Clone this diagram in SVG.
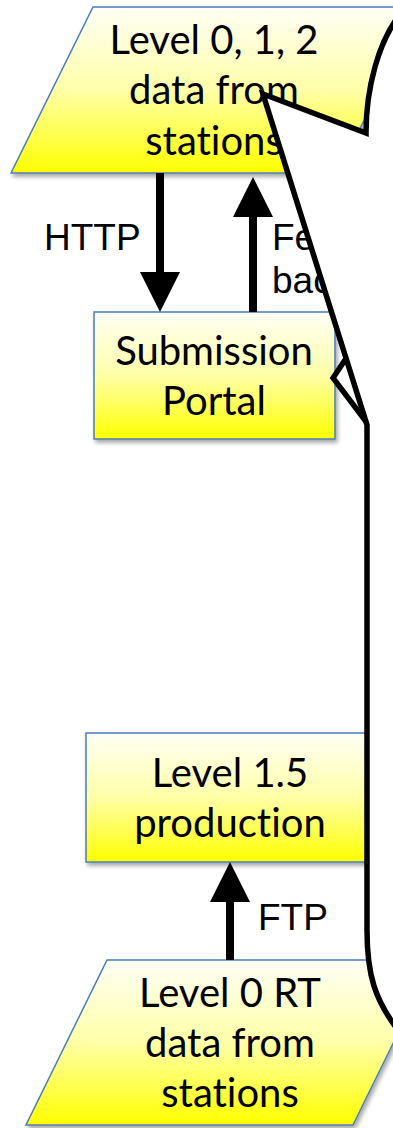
<svg xmlns="http://www.w3.org/2000/svg" width="393" height="1128" viewBox="0 0 393 1128">
<defs>
<linearGradient id="yg" x1="0" y1="0" x2="0" y2="1">
<stop offset="0" stop-color="#FFFFF6"/>
<stop offset="0.5" stop-color="#FFFFA8"/>
<stop offset="1" stop-color="#FFFF00"/>
</linearGradient>
<filter id="sh" x="-10%" y="-10%" width="130%" height="130%">
<feDropShadow dx="2" dy="3" stdDeviation="2" flood-color="#000" flood-opacity="0.35"/>
</filter>
<marker id="ah" markerUnits="userSpaceOnUse" markerWidth="40" markerHeight="40" viewBox="0 0 40 40" refX="0" refY="20" orient="auto">
<path d="M0,0 L40,20 L0,40 Z" fill="#000"/>
</marker>
</defs>
<style>
.node{fill:url(#yg);stroke:#4A7EBB;stroke-width:1.5;filter:url(#sh)}
.nt{font-family:Lato,"Liberation Sans",sans-serif;font-size:40px;fill:#000;text-anchor:middle;font-variant-ligatures:none}
.el{font-family:"Liberation Sans",Arial,sans-serif;font-size:37px;fill:#000}
.conn{stroke:#000;stroke-width:8;fill:none;marker-end:url(#ah)}
.call{fill:#fff;stroke:#000;stroke-width:5.5;stroke-linejoin:miter}
</style>
<g id="n-top">
<path class="node" d="M93,7 L420,7 L338,173 L11,173 Z"/>
<text class="nt" x="214" y="54">Level 0, 1, 2</text>
<text class="nt" x="214" y="104">data from</text>
<text class="nt" x="214" y="155">stations</text>
</g>
<g id="n-portal">
<rect class="node" x="94" y="312" width="241" height="127"/>
<text class="nt" x="214" y="365">Submission</text>
<text class="nt" x="214" y="415">Portal</text>
</g>
<g id="n-l15">
<rect class="node" x="86" y="733" width="288" height="129"/>
<text class="nt" x="230" y="787">Level 1.5</text>
<text class="nt" x="230" y="837">production</text>
</g>
<g id="n-bottom">
<path class="node" d="M107,960 L434,960 L353,1125 L26,1125 Z"/>
<text class="nt" x="230" y="1007">Level 0 RT</text>
<text class="nt" x="230" y="1057">data from</text>
<text class="nt" x="230" y="1107">stations</text>
</g>
<g id="connectors">
<line class="conn" x1="160" y1="173" x2="160" y2="272"/>
<line class="conn" x1="253" y1="312" x2="253" y2="217"/>
<line class="conn" x1="230" y1="960" x2="230" y2="902"/>
<text class="el" x="44" y="250">HTTP</text>
<text class="el" x="272" y="250">Fe</text>
<text class="el" x="272" y="293">bac</text>
<text class="el" x="258" y="930">FTP</text>
</g>
<g id="callout">
<path class="call" d="M333,378 L353,348 L380,440 Z"/>
<path class="call" d="M402,12 C378,40 366,90 366,133 L263,94 L367,425 L367,930 C367,975 375,1000 398,1030 L450,1030 L450,-10 L405,-10 Z"/>
</g>
</svg>
